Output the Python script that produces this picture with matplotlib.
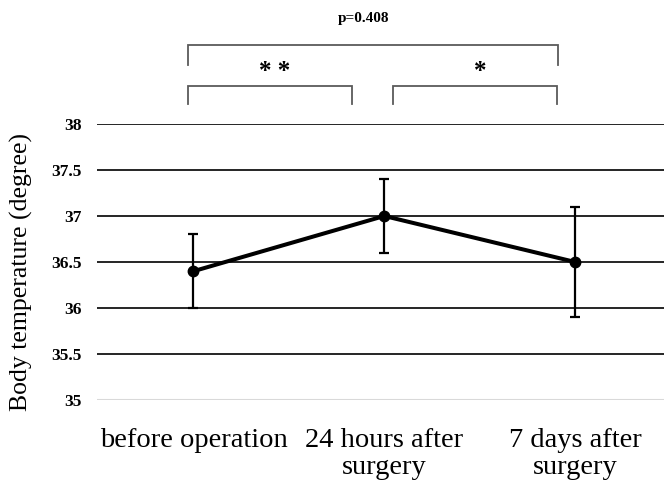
import matplotlib
matplotlib.use("Agg")
import matplotlib.pyplot as plt

# Données
groupes = ["before operation", "24 hours after\nsurgery", "7 days after\nsurgery"]
temperature = [36.4, 37.0, 36.5]
ecart = [0.4, 0.4, 0.6]
yticks = [35, 35.5, 36, 36.5, 37, 37.5, 38]
ytick_labels = ["35", "35.5", "36", "36.5", "37", "37.5", "38"]

plt.rcParams['font.family'] = ['Liberation Serif', 'DejaVu Serif']

fig = plt.figure(figsize=(6.64, 4.82), dpi=100)
ax = fig.add_axes([97/664, 82/482, 1 - 97/664, 276/482])

x = list(range(len(groupes)))

# lignes horizontales
for v in yticks[1:]:
    ax.axhline(v, color='black', lw=1.2, zorder=1)
ax.axhline(35, color='#d9d9d9', lw=1.5, zorder=1)

ax.errorbar(x, temperature, yerr=ecart, color='black', lw=2.9, marker='o', markersize=7.5,
            ecolor='black', elinewidth=1.6, capsize=3.3, capthick=1.6, zorder=3)

ax.set_xlim(-0.505, 2.465)
ax.set_ylim(35, 38)
ax.set_yticks(yticks)
ax.set_yticklabels(ytick_labels, fontsize=12.5, fontweight='bold')
ax.set_xticks(x)
ax.set_xticklabels(groupes, fontsize=20.5, linespacing=1.12)
ax.tick_params(axis='both', length=0)
ax.tick_params(axis='y', pad=11)
ax.tick_params(axis='x', pad=20)
for s in ax.spines.values():
    s.set_visible(False)
ax.set_ylabel("Body temperature (degree)", fontsize=18.5)
ax.yaxis.set_label_coords(-0.113, 0.464)

# crochets de significativité
def crochet(x1, x2, y_haut, y_bas):
    ax.plot([x1, x1, x2, x2], [y_bas, y_haut, y_haut, y_bas], color='#5a5a5a', lw=1.3,
            clip_on=False, solid_joinstyle='miter')

crochet(-0.026, 1.911, 38.86, 38.64)
crochet(-0.026, 0.832, 38.41, 38.22)
crochet(1.047, 1.906, 38.41, 38.22)

ax.text(0.424, 38.57, "* *", ha='center', va='center', fontsize=18, fontweight='bold', clip_on=False)
ax.text(1.503, 38.57, "*", ha='center', va='center', fontsize=18, fontweight='bold', clip_on=False)
ax.text(0.89, 39.15, "p=0.408", ha='center', va='center', fontsize=11, fontweight='bold', clip_on=False)

plt.savefig("out.png", dpi=100)
